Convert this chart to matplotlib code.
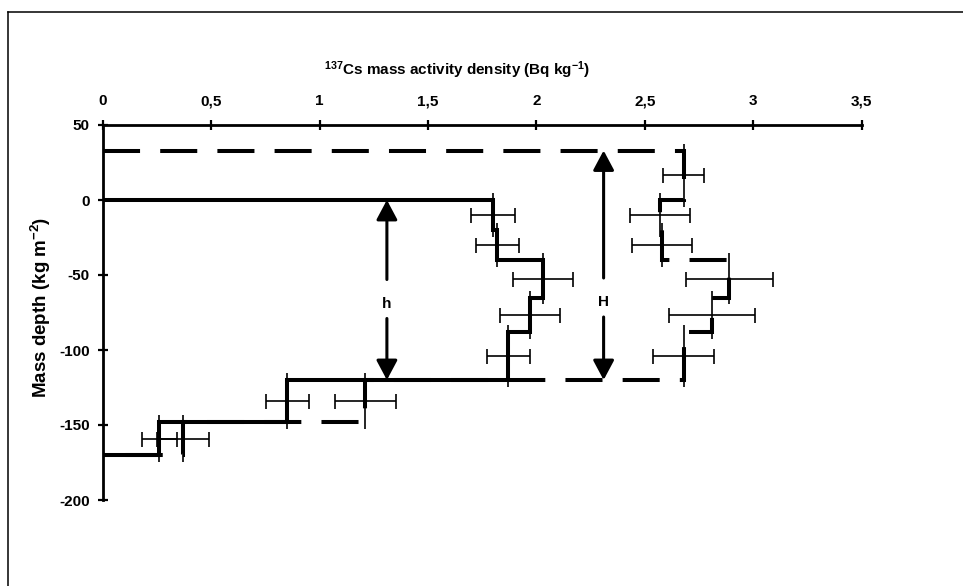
import matplotlib
matplotlib.use("Agg")
import matplotlib.pyplot as plt
from matplotlib.ticker import FuncFormatter
from matplotlib.lines import Line2D
import numpy as np

plt.rcParams['font.family'] = ['Liberation Sans', 'DejaVu Sans']
plt.rcParams['font.weight'] = 'bold'
plt.rcParams['axes.unicode_minus'] = False
plt.rcParams['mathtext.fontset'] = 'custom'
plt.rcParams['mathtext.rm'] = 'Liberation Sans:bold'
plt.rcParams['mathtext.bf'] = 'Liberation Sans:bold'
plt.rcParams['mathtext.default'] = 'bf'

# reference profile (solid line): layer boundaries, activity, uncertainty
ref_depths = [0, -20, -40, -65, -88, -120, -148, -170]
ref_activity = [1.80, 1.82, 2.03, 1.97, 1.87, 0.85, 0.26]
ref_err = [0.10, 0.10, 0.14, 0.14, 0.10, 0.10, 0.08]

# sampled profile (dashed line)
site_depths = [33, 0, -20, -40, -65, -88, -120, -148, -170]
site_activity = [2.68, 2.57, 2.58, 2.89, 2.81, 2.68, 1.21, 0.37]
site_err = [0.095, 0.14, 0.14, 0.20, 0.20, 0.14, 0.14, 0.12]

# h / H arrows
arrow_labels = ['h', 'H']
arrow_x = [1.31, 2.31]
arrow_top = [0, 33]
arrow_bottom = [-120, -120]
arrow_label_y = [-69, -68]

x_ticks = [0, 0.5, 1, 1.5, 2, 2.5, 3, 3.5]
y_ticks = [50, 0, -50, -100, -150, -200]

FS = 11
THICK = 2.9
THIN = 1.2


def step_path(depths, activity):
    xs, ys = [0], [depths[0]]
    for i, v in enumerate(activity):
        xs += [v, v]
        ys += [depths[i], depths[i + 1]]
    xs.append(0)
    ys.append(depths[-1])
    return xs, ys


def layer_bars(ax, depths, activity, err):
    d = np.array(depths, dtype=float)
    mids = (d[:-1] + d[1:]) / 2
    half = (d[:-1] - d[1:]) / 2
    # thin vertical bars spanning each layer
    ax.errorbar(activity, mids, yerr=half + 4.5, fmt='none', ecolor='black',
                elinewidth=THIN, capsize=0, zorder=2)
    # horizontal uncertainty bars with caps
    ax.errorbar(activity, mids, xerr=err, fmt='none', ecolor='black',
                elinewidth=THIN, capsize=5.4, capthick=THIN, zorder=2)


fig = plt.figure(figsize=(9.63, 5.86), dpi=100)
ax = fig.add_axes([103 / 963, 1 - 500 / 586, 758.5 / 963, 375 / 586])

xs, ys = step_path(ref_depths, ref_activity)
ax.plot(xs, ys, color='black', lw=THICK, solid_capstyle='butt',
        solid_joinstyle='miter', zorder=3)
xs, ys = step_path(site_depths, site_activity)
ax.plot(xs, ys, color='black', lw=THICK, linestyle=(0, (9.2, 5.0)),
        dash_capstyle='butt', dash_joinstyle='miter', zorder=3)

layer_bars(ax, ref_depths, ref_activity, ref_err)
layer_bars(ax, site_depths, site_activity, site_err)

for lab, x, top, bot, ly in zip(arrow_labels, arrow_x, arrow_top, arrow_bottom, arrow_label_y):
    aprops = dict(arrowstyle='-|>,head_length=0.6,head_width=0.32', color='black',
                  lw=2.2, shrinkA=0, shrinkB=0, mutation_scale=20)
    ax.annotate('', xy=(x, top), xytext=(x, ly + 16), arrowprops=aprops, zorder=4)
    ax.annotate('', xy=(x, bot), xytext=(x, ly - 10), arrowprops=aprops, zorder=4)
    ax.text(x, ly, lab, ha='center', va='center', fontsize=FS, fontweight='bold')

ax.set_xlim(0, 3.5)
ax.set_ylim(-200, 50)
ax.set_xticks(x_ticks)
ax.set_yticks(y_ticks)
comma = FuncFormatter(lambda v, p: f"{v:g}".replace('.', ','))
ax.xaxis.set_major_formatter(comma)
ax.yaxis.set_major_formatter(comma)
ax.xaxis.tick_top()
ax.xaxis.set_label_position('top')
ax.tick_params(axis='both', direction='inout', length=7, width=1.6,
               labelsize=FS, pad=6)
ax.tick_params(axis='x', pad=8.5)

for s in ['right', 'bottom']:
    ax.spines[s].set_visible(False)
for s in ['top', 'left']:
    ax.spines[s].set_linewidth(2.0)

ax.set_xlabel(r"$^{137}$Cs mass activity density (Bq kg$^{-1}$)",
              fontsize=FS, fontweight='bold')
ax.xaxis.set_label_coords(0.467, 1.134)
ax.set_ylabel(r"Mass depth (kg m$^{-2}$)", fontsize=13.5, fontweight='bold')
ax.yaxis.set_label_coords(-0.066, 0.513)

# outer frame (top and left edges visible)
fig.add_artist(Line2D([8 / 963, 1], [1 - 12 / 586, 1 - 12 / 586],
                      transform=fig.transFigure, color='black', lw=1.1))
fig.add_artist(Line2D([8 / 963, 8 / 963], [0, 1 - 12 / 586],
                      transform=fig.transFigure, color='black', lw=1.1))

fig.savefig('out.png', dpi=100)
